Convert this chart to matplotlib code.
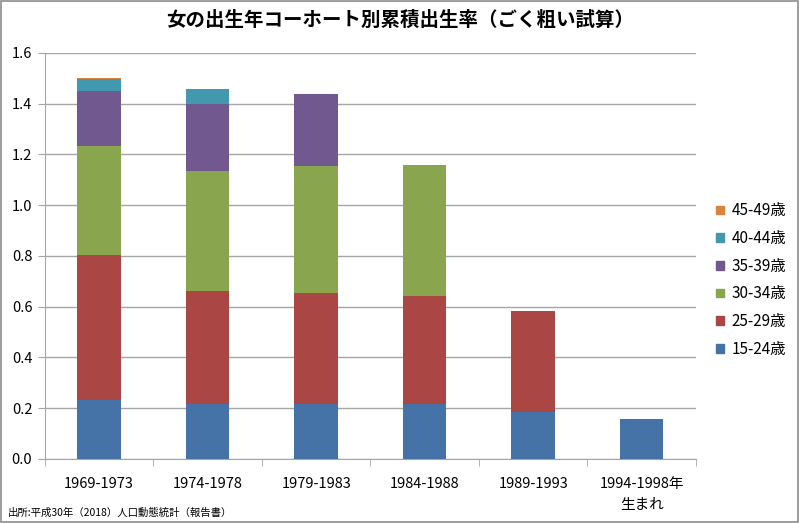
import matplotlib
matplotlib.use("Agg")
import matplotlib.pyplot as plt
from matplotlib.patches import Rectangle, Patch
import numpy as np

plt.rcParams['font.family'] = ['Noto Sans CJK JP', 'DejaVu Sans']

# Data
cohorts = ["1969-1973", "1974-1978", "1979-1983", "1984-1988", "1989-1993", "1994-1998年\n生まれ"]
age_groups = ["15-24歳", "25-29歳", "30-34歳", "35-39歳", "40-44歳", "45-49歳"]
v15_24 = [0.232, 0.216, 0.216, 0.216, 0.184, 0.156]
v25_29 = [0.571, 0.446, 0.437, 0.426, 0.400, 0.0]
v30_34 = [0.432, 0.472, 0.503, 0.515, 0.0, 0.0]
v35_39 = [0.214, 0.263, 0.284, 0.0, 0.0, 0.0]
v40_44 = [0.047, 0.060, 0.0, 0.0, 0.0, 0.0]
v45_49 = [0.005, 0.0, 0.0, 0.0, 0.0, 0.0]
colors = ["#4572A7", "#AA4643", "#89A54E", "#71588F", "#4198AF", "#DB843D"]

series = [v15_24, v25_29, v30_34, v35_39, v40_44, v45_49]

fig = plt.figure(figsize=(8, 5.23), dpi=100)
ax = fig.add_axes([0.056, 0.1224, 0.814, 0.7763])

x = np.arange(len(cohorts))
bottom = np.zeros(len(cohorts))
for vals, col, lab in zip(series, colors, age_groups):
    vals = np.array(vals)
    ax.bar(x, vals, width=0.4, bottom=bottom, color=col, label=lab, zorder=3)
    bottom += vals

ax.set_xlim(-0.5, len(cohorts) - 0.5)
ax.set_ylim(0, 1.6)
ax.set_yticks(np.arange(0, 1.61, 0.2))
ax.set_yticklabels([f"{v:.1f}" for v in np.arange(0, 1.61, 0.2)], fontsize=10.5)
ax.yaxis.grid(True, color="#A6A6A6", linewidth=1, zorder=0)

ax.set_xticks(x)
ax.set_xticklabels(cohorts, fontsize=10.5, linespacing=1.6)
ax.set_xticks(np.arange(-0.5, len(cohorts)), minor=True)
ax.tick_params(axis="x", which="major", length=0, pad=13)
ax.tick_params(axis="x", which="minor", length=5, color="#A6A6A6")
ax.tick_params(axis="y", length=5, color="#A6A6A6", pad=4)

for s in ["top", "right"]:
    ax.spines[s].set_visible(False)
for s in ["left", "bottom"]:
    ax.spines[s].set_color("#A6A6A6")

handles = [Patch(color=c) for c in colors][::-1]
fig.legend(handles, age_groups[::-1], loc="center left",
           bbox_to_anchor=(0.886, 0.4646), frameon=False, fontsize=11,
           handlelength=0.5, handleheight=0.5, handletextpad=0.5,
           labelspacing=0.7, borderpad=0)

fig.text(0.5, 0.962, "女の出生年コーホート別累積出生率（ごく粗い試算）",
         ha="center", va="center", fontsize=14, fontweight="bold")
fig.text(0.01, 0.02, "出所:平成30年（2018）人口動態統計（報告書）",
         ha="left", va="center", fontsize=7.5)

fig.add_artist(Rectangle((0.001, 0.001), 0.997, 0.997, transform=fig.transFigure,
                         fill=False, edgecolor="#8C8C8C", linewidth=1.2))

fig.savefig("out.png", dpi=100)
